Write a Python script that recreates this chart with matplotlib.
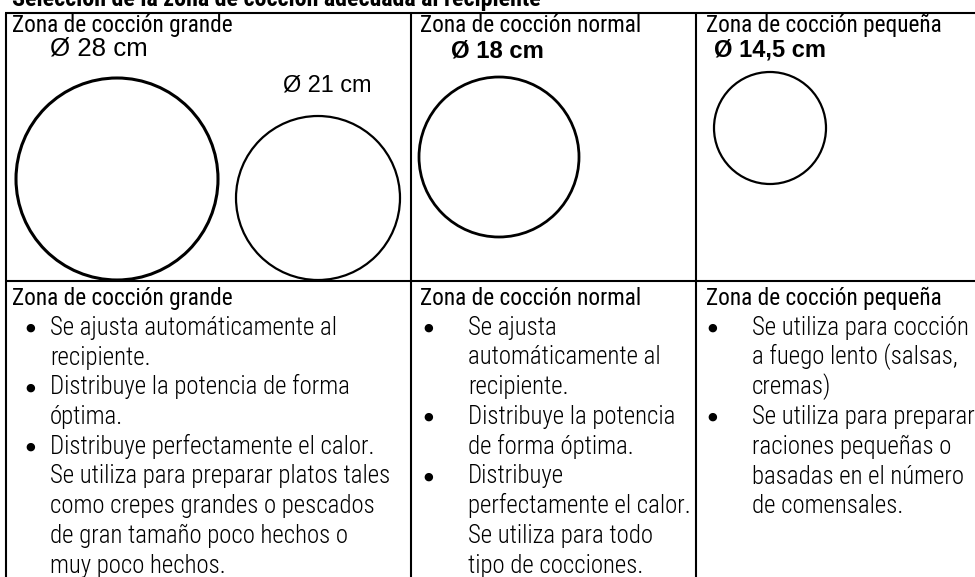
import matplotlib
matplotlib.use("Agg")
import matplotlib.pyplot as plt
from matplotlib import font_manager
from matplotlib.font_manager import FontProperties
from matplotlib.patches import Circle

title = "Selección de la zona de cocción adecuada al recipiente"
headers = ["Zona de cocción grande", "Zona de cocción normal", "Zona de cocción pequeña"]
diam_labels = ["Ø 28 cm", "Ø 21 cm", "Ø 18 cm", "Ø 14,5 cm"]
diam_bold = [False, False, True, True]

col1_lines = ["Se ajusta automáticamente al", "recipiente.",
              "Distribuye la potencia de forma", "óptima.",
              "Distribuye perfectamente el calor.",
              "Se utiliza para preparar platos tales",
              "como crepes grandes o pescados",
              "de gran tamaño poco hechos o",
              "muy poco hechos."]
col1_bullets = [0, 2, 4]
col2_lines = ["Se ajusta", "automáticamente al", "recipiente.",
              "Distribuye la potencia", "de forma óptima.",
              "Distribuye", "perfectamente el calor.",
              "Se utiliza para todo", "tipo de cocciones."]
col2_bullets = [0, 3, 5]
col3_lines = ["Se utiliza para cocción", "a fuego lento (salsas,", "cremas)",
              "Se utiliza para preparar", "raciones pequeñas o",
              "basadas en el número", "de comensales."]
col3_bullets = [0, 3]

# ---- font selection: prefer a condensed sans ----
def pick(patterns_light, patterns_reg, patterns_bold):
    files = [f.fname for f in font_manager.fontManager.ttflist]
    def find(pats):
        for p in pats:
            for fn in files:
                if p.lower() in fn.lower().replace('-', '').replace('_', ''):
                    return fn
        return None
    return find(patterns_light), find(patterns_reg), find(patterns_bold)

lt, rg, bd = pick(['RobotoCondensedLight', 'LiberationSansNarrowRegular', 'DejaVuSansCondensed.ttf', 'OpenSansCondensedLight'],
                  ['RobotoCondensedRegular', 'LiberationSansNarrowRegular', 'DejaVuSansCondensed.ttf', 'OpenSansCondensed'],
                  ['RobotoCondensedBold', 'LiberationSansNarrowBold', 'DejaVuSansCondensedBold', 'OpenSansCondensedBold'])

def fp(fn, fallback_weight='normal'):
    if fn:
        return FontProperties(fname=fn)
    return FontProperties(family=['Roboto', 'DejaVu Sans'], weight=fallback_weight)

body_fp = fp(lt or rg, 'light')
head_fp = fp(rg, 'normal')
title_fp = fp(bd, 'bold')

W, H = 975, 577
fig = plt.figure(figsize=(W / 100, H / 100), dpi=100)
ax = fig.add_axes([0, 0, 1, 1])
ax.set_xlim(0, W)
ax.set_ylim(H, 0)
ax.axis('off')
renderer = fig.canvas.get_renderer()

def fit_text(x, y, s, prop, target_w, size0=15, **kw):
    t = ax.text(x, y, s, fontproperties=prop, fontsize=size0,
                va='baseline', ha='left', **kw)
    w = t.get_window_extent(renderer).width
    if w > 0:
        t.set_fontsize(size0 * target_w / w)
    return t

# table lines
lw = 1.5
ax.plot([5, W], [13, 13], color='black', lw=lw, solid_capstyle='butt')
ax.plot([5, W], [281, 281], color='black', lw=lw, solid_capstyle='butt')
for x in [6, 411, 696]:
    ax.plot([x, x], [13, H], color='black', lw=lw, solid_capstyle='butt')

# title (cut at top)
fit_text(12, 6, title, title_fp, 528)

# headers: measure size on first header, reuse
t0 = fit_text(12, 32, headers[0], head_fp, 221)
hs = t0.get_fontsize()
for x, h in zip([420, 706], headers[1:]):
    ax.text(x, 32, h, fontproperties=head_fp, fontsize=hs, va='baseline', ha='left')

# circles
circles = [((117, 179), 101, 2.2), ((318, 198), 82, 1.6),
           ((499, 157), 80, 2.0), ((770, 128), 56, 1.6)]
for (c, r, w) in circles:
    ax.add_patch(Circle(c, r, fill=False, ec='black', lw=w))

sans = FontProperties(family=['Liberation Sans', 'DejaVu Sans'])
sans_b = FontProperties(family=['Liberation Sans', 'DejaVu Sans'], weight='bold')
label_pos = [(50, 55), (283, 92), (451, 57), (714, 57)]
label_w = [98, 89, 93, 112]
for (x, y), lab, b, tw in zip(label_pos, diam_labels, diam_bold, label_w):
    fit_text(x, y, lab, sans_b if b else sans, tw)

# bottom headers and bullet lists
row0 = 305
step = 29.75
for x, h in zip([12, 420, 706], headers):
    ax.text(x, row0, h, fontproperties=head_fp, fontsize=hs, va='baseline', ha='left')

tb = fit_text(50, row0 + step * 6, col1_lines[5], body_fp, 342)
bs = tb.get_fontsize()
tb.remove()
cols = [(col1_lines, col1_bullets, 25, 50),
        (col2_lines, col2_bullets, 423, 468),
        (col3_lines, col3_bullets, 707, 752)]
for lines, bullets, bx, tx in cols:
    for i, line in enumerate(lines):
        y = row0 + step * (i + 1)
        ax.text(tx, y, line, fontproperties=body_fp, fontsize=bs, va='baseline', ha='left')
        if i in bullets:
            ax.text(bx, y - 4, "●", family=['DejaVu Sans'], fontsize=8,
                    va='baseline', ha='left')

fig.savefig("out.png", dpi=100)
